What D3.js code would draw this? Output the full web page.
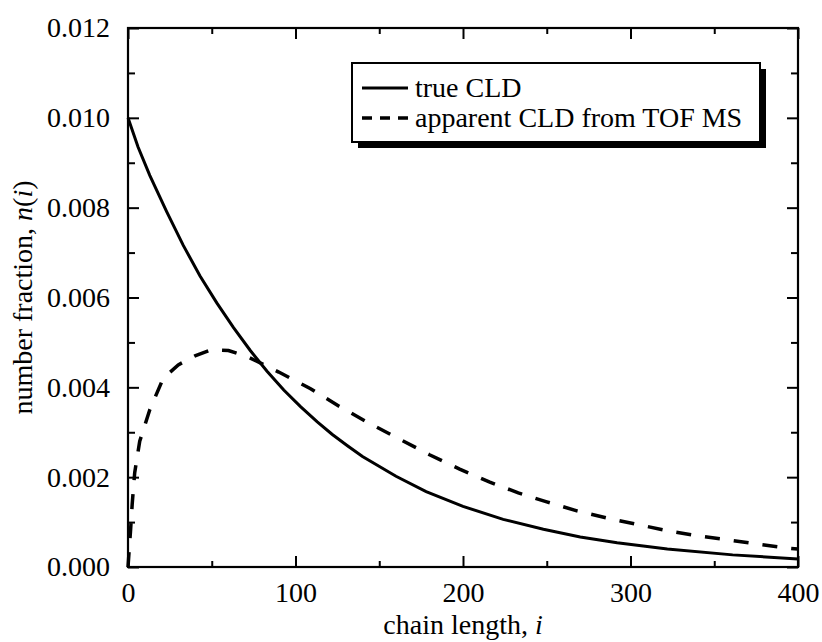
<!DOCTYPE html>
<html>
<head>
<meta charset="utf-8">
<script src="https://cdn.jsdelivr.net/npm/d3@7"></script>
<style>
  body { margin: 0; background: #fff; }
  svg text { font-family: "Liberation Serif", "Times New Roman", serif; fill: #000; }
</style>
</head>
<body>
<svg id="chart" width="822" height="642"></svg>
<script>
// true chain length distribution
var trueI = [0, 6, 13, 23, 33, 43, 53, 63, 73, 83, 93, 103, 113, 122, 131, 140, 160, 178, 200, 224, 248, 270, 292, 322, 361, 400];
var trueN = [0.0100, 0.00935, 0.00872, 0.00792, 0.00716, 0.00648, 0.00588, 0.00533, 0.00482, 0.00436, 0.00394, 0.00357,
             0.00323, 0.00295, 0.00270, 0.00246, 0.00202, 0.00168, 0.00135, 0.00106, 0.00084, 0.00067, 0.00054, 0.00040, 0.00027, 0.00018];

// apparent distribution from TOF MS
var appI = [0, 1.5, 2.5, 4, 7, 13, 21, 30, 40, 50, 60, 72, 90, 109, 126, 144, 162, 180, 198, 216, 233, 250, 268, 286, 305, 323, 341, 359, 376, 394, 400];
var appN = [0, 0.0008, 0.0014, 0.0021, 0.0028, 0.0035, 0.0042, 0.0045, 0.0047, 0.00484, 0.00482, 0.00467, 0.00434, 0.00397,
            0.00358, 0.00320, 0.00285, 0.00250, 0.00218, 0.00189, 0.00165, 0.00145, 0.00125, 0.00109, 0.00094, 0.00080,
            0.00069, 0.00060, 0.00051, 0.00042, 0.00040];

var xTicks = [0, 100, 200, 300, 400];
var yTicks = [0, 0.002, 0.004, 0.006, 0.008, 0.010, 0.012];
var seriesNames = ["true CLD", "apparent CLD from TOF MS"];

var margin = { top: 28, right: 24, bottom: 75, left: 128 };
var width = 822 - margin.left - margin.right;
var height = 642 - margin.top - margin.bottom;

var svg = d3.select("#chart");
var g = svg.append("g").attr("transform", "translate(" + margin.left + "," + margin.top + ")");

var x = d3.scaleLinear().domain([0, 400]).range([0, width]);
var y = d3.scaleLinear().domain([0, 0.012]).range([height, 0]);

function styleAxis(sel, fontSize) {
    sel.select(".domain").remove();
    sel.selectAll("line").attr("stroke", "#000").attr("stroke-width", 2);
    sel.selectAll("text").attr("font-size", fontSize);
}

// minor ticks
var xMinor = d3.range(50, 400, 100);
var yMinor = d3.range(0.001, 0.012, 0.002);
g.append("g").attr("transform", "translate(0," + height + ")")
    .call(d3.axisBottom(x).tickValues(xMinor).tickSize(-6).tickFormat(""))
    .call(styleAxis, 0);
g.append("g")
    .call(d3.axisTop(x).tickValues(xMinor).tickSize(-6).tickFormat(""))
    .call(styleAxis, 0);
g.append("g")
    .call(d3.axisLeft(y).tickValues(yMinor).tickSize(-7).tickFormat(""))
    .call(styleAxis, 0);
g.append("g").attr("transform", "translate(" + width + ",0)")
    .call(d3.axisRight(y).tickValues(yMinor).tickSize(-7).tickFormat(""))
    .call(styleAxis, 0);

// major ticks
g.append("g").attr("transform", "translate(0," + height + ")")
    .call(d3.axisBottom(x).tickValues(xTicks).tickSize(-11).tickPadding(15).tickFormat(d3.format("d")))
    .call(styleAxis, 28);
g.append("g")
    .call(d3.axisTop(x).tickValues(xTicks).tickSize(-11).tickFormat(""))
    .call(styleAxis, 0);
g.append("g")
    .call(d3.axisLeft(y).tickValues(yTicks).tickSize(-11).tickPadding(18).tickFormat(d3.format(".3f")))
    .call(styleAxis, 28);
g.append("g").attr("transform", "translate(" + width + ",0)")
    .call(d3.axisRight(y).tickValues(yTicks).tickSize(-11).tickFormat(""))
    .call(styleAxis, 0);

// frame
g.append("rect").attr("width", width).attr("height", height)
    .attr("fill", "none").attr("stroke", "#000").attr("stroke-width", 2.2);

var line = d3.line().x(function (d) { return x(d[0]); }).y(function (d) { return y(d[1]); });

g.append("path")
    .datum(d3.zip(trueI, trueN))
    .attr("d", line)
    .attr("fill", "none").attr("stroke", "#000").attr("stroke-width", 3);

g.append("path")
    .datum(d3.zip(appI, appN))
    .attr("d", line)
    .attr("fill", "none").attr("stroke", "#000").attr("stroke-width", 3.5)
    .attr("stroke-dasharray", "15,14");

// axis titles
var xt = svg.append("text").attr("x", margin.left + width / 2).attr("y", 634)
    .attr("text-anchor", "middle").attr("font-size", 28);
xt.append("tspan").text("chain length, ");
xt.append("tspan").attr("font-style", "italic").text("i");

var yt = svg.append("text").attr("transform", "translate(32," + (margin.top + height / 2) + ") rotate(-90)")
    .attr("text-anchor", "middle").attr("font-size", 28);
yt.append("tspan").text("number fraction, ");
yt.append("tspan").attr("font-style", "italic").text("n");
yt.append("tspan").text("(");
yt.append("tspan").attr("font-style", "italic").text("i");
yt.append("tspan").text(")");

// legend with drop shadow
var lg = svg.append("g");
var box = { x: 352, y: 63, w: 408, h: 79 };
lg.append("rect").attr("x", box.x + 6).attr("y", box.y + 6).attr("width", box.w).attr("height", box.h).attr("fill", "#000");
lg.append("rect").attr("x", box.x).attr("y", box.y).attr("width", box.w).attr("height", box.h)
    .attr("fill", "#fff").attr("stroke", "#000").attr("stroke-width", 2);

seriesNames.forEach(function (name, k) {
    var yy = box.y + 25 + k * 30;
    lg.append("line").attr("x1", box.x + 10).attr("x2", box.x + 56).attr("y1", yy).attr("y2", yy)
        .attr("stroke", "#000").attr("stroke-width", k ? 3.5 : 3)
        .attr("stroke-dasharray", k ? "10,8" : null);
    lg.append("text").attr("x", box.x + 63).attr("y", yy + 9).attr("font-size", 28).text(name);
});
</script>
</body>
</html>
